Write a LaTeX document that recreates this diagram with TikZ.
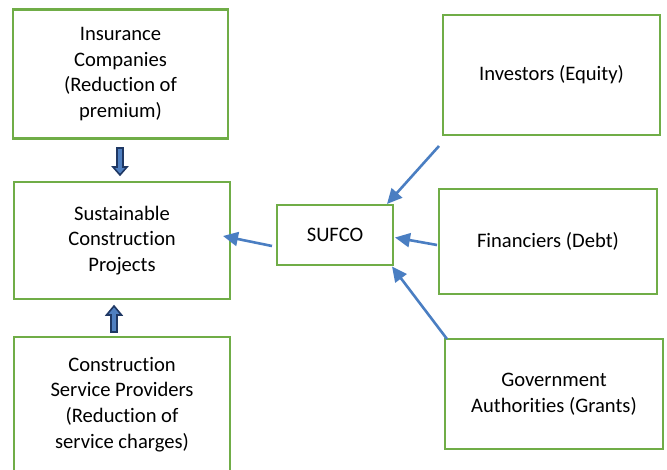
\documentclass[tikz,border=0pt]{standalone}
\usepackage{fontspec}
\setmainfont[Ligatures=CommonOff]{Carlito}
\usetikzlibrary{calc,arrows.meta}
\definecolor{boxgreen}{HTML}{70AD47}
\definecolor{linkblue}{HTML}{4A7EC2}
\definecolor{navy}{HTML}{1F3864}
\definecolor{fillblue}{HTML}{4F7FC0}
\tikzset{
  box/.style={draw=boxgreen, line width=2.8pt, fill=white, inner sep=0pt, outer sep=0pt,
    align=center, font=\fontsize{20.6}{25.8}\selectfont},
  link/.style={draw=linkblue, line width=2.6pt, -{Triangle[length=15pt,width=14pt]}},
  blockarrow/.style={draw=navy, fill=fillblue, line width=1.6pt, line join=miter}
}
\begin{document}
\begin{tikzpicture}[x=1pt,y=-1pt]
\fill[white] (0,0) rectangle (667,470);
\useasboundingbox (0,0) rectangle (667,470);
\begin{scope}
\clip (0,0) rectangle (667,470);
% left column
\node[box, minimum width=215pt, minimum height=129pt] (ins) at (120.5,74) {Insurance\\Companies\\(Reduction of\\premium)};
\node[box, minimum width=216pt, minimum height=117pt] (sust) at (122,240.5) {Sustainable\\Construction\\Projects};
\node[box, minimum width=216pt, minimum height=135pt] (csp) at (122,404.5) {Construction\\Service Providers\\(Reduction of\\service charges)};
% centre
\node[box, minimum width=116pt, minimum height=60pt] (sufco) at (335,235) {SUFCO};
% right column
\node[box, minimum width=217pt, minimum height=120pt] (inv) at (551.5,75) {Investors (Equity)};
\node[box, minimum width=218pt, minimum height=105pt] (fin) at (548,241.5) {Financiers (Debt)};
\node[box, minimum width=218pt, minimum height=110pt] (gov) at (554,394) {Government\\Authorities (Grants)};
\end{scope}
% funding flows into SUFCO
\draw[link] ($(inv.south west)+(-4,11)$) -- ($(sufco.north east)+(-6,-1)$);
\draw[link] ($(fin.west)+(-2,3.5)$) -- ($(sufco.east)+(2,2.5)$);
\draw[link] ($(gov.north west)+(2,0)$) -- ($(sufco.south east)+(-1,1.5)$);
% SUFCO to projects
\draw[link] ($(sufco.west)+(-5,11)$) -- ($(sust.east)+(-7,-4.5)$);
% block arrows towards the projects
\draw[blockarrow] (117,148) -- (123,148) -- (123,167) -- (127,167) -- (120,175) -- (113,167) -- (117,167) -- cycle;
\draw[blockarrow] (111,332) -- (117,332) -- (117,315) -- (121.5,315) -- (114,306) -- (106.5,315) -- (111,315) -- cycle;
\end{tikzpicture}
\end{document}
